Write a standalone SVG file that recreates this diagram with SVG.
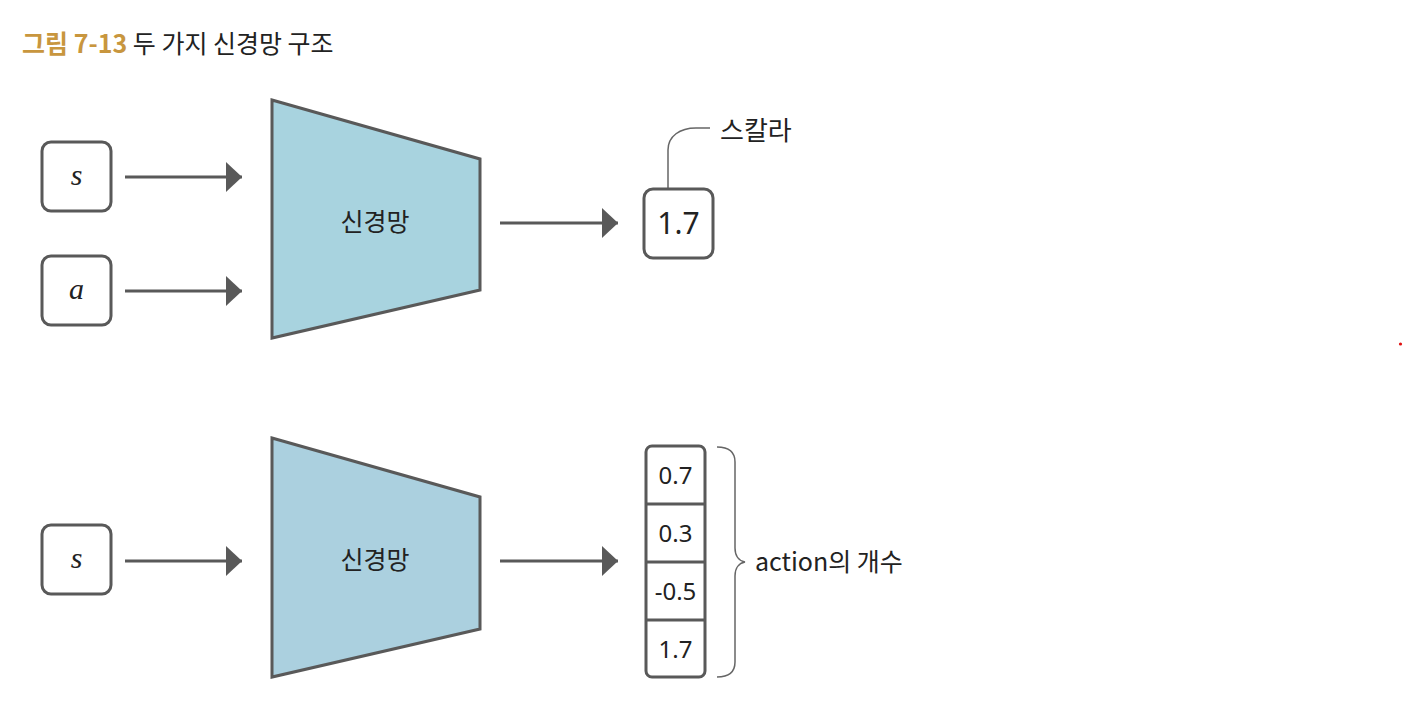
<svg xmlns="http://www.w3.org/2000/svg" width="1404" height="723" viewBox="0 0 1404 723">
<defs>
<style>
.box{fill:#fff;stroke:#595959;stroke-width:3}
.net{stroke:#595959;stroke-width:3}
.conn{stroke:#595959;stroke-width:3;fill:none}
.thin{stroke:#666;stroke-width:1.5;fill:none}
.math{font-family:"Liberation Serif","DejaVu Serif",serif;font-style:italic;font-size:30px;fill:#222;text-anchor:middle}
.ko{font-family:"Noto Sans CJK KR","Noto Sans",sans-serif;font-size:25px;fill:#222}
.num{font-family:"Noto Sans","Liberation Sans",sans-serif;font-size:24px;fill:#222;text-anchor:middle}
</style>
<marker id="arr" markerWidth="16" markerHeight="30" refX="16" refY="15" orient="auto" markerUnits="userSpaceOnUse">
<path d="M0,0 L16,15 L0,30 Z" fill="#595959"/>
</marker>
</defs>
<rect width="1404" height="723" fill="#fff"/>
<g id="title">
<text x="22" y="53" font-family="'Noto Sans CJK KR','Liberation Sans',sans-serif" font-size="25"><tspan font-weight="bold" fill="#c8963e">그림 7-13</tspan><tspan fill="#222"> 두 가지 신경망 구조</tspan></text>
</g>
<g id="connectors">
<line class="conn" x1="125" y1="177" x2="242" y2="177" marker-end="url(#arr)"/>
<line class="conn" x1="125" y1="291" x2="242" y2="291" marker-end="url(#arr)"/>
<line class="conn" x1="500" y1="223" x2="618" y2="223" marker-end="url(#arr)"/>
<line class="conn" x1="125" y1="561" x2="242" y2="561" marker-end="url(#arr)"/>
<line class="conn" x1="500" y1="561" x2="618" y2="561" marker-end="url(#arr)"/>
<path class="thin" d="M668,188 L668,150 C668,136 680,128 696,128 L710,128"/>
</g>
<g id="s-top">
<rect class="box" x="42" y="142" width="69" height="69" rx="9"/>
<text class="math" x="76.5" y="185">s</text>
</g>
<g id="a-top">
<rect class="box" x="42" y="256" width="69" height="69" rx="9"/>
<text class="math" x="76.5" y="299">a</text>
</g>
<g id="net-top">
<polygon class="net" points="272,100 480,159 480,290 272,338" fill="#a8d3df"/>
<text class="ko" x="375" y="231" text-anchor="middle">신경망</text>
</g>
<g id="scalar">
<rect class="box" x="644" y="189" width="69" height="69" rx="9"/>
<text class="num" x="678.5" y="234" style="font-size:30px">1.7</text>
<text class="ko" x="720" y="140" style="font-size:26px">스칼라</text>
</g>
<g id="s-bottom">
<rect class="box" x="42" y="525" width="69" height="69" rx="9"/>
<text class="math" x="76.5" y="568">s</text>
</g>
<g id="net-bottom">
<polygon class="net" points="272,438 480,497 480,629 272,677" fill="#abd0df"/>
<text class="ko" x="375" y="569" text-anchor="middle">신경망</text>
</g>
<g id="vector">
<rect class="box" x="646" y="446" width="59" height="231" rx="6"/>
<line class="conn" x1="646" y1="504" x2="705" y2="504"/>
<line class="conn" x1="646" y1="562" x2="705" y2="562"/>
<line class="conn" x1="646" y1="620" x2="705" y2="620"/>
<text class="num" x="675.5" y="484">0.7</text>
<text class="num" x="675.5" y="542">0.3</text>
<text class="num" x="675.5" y="600">-0.5</text>
<text class="num" x="675.5" y="658">1.7</text>
</g>
<g id="brace">
<path class="thin" d="M717,447 C728,447 735,451 735,462 L735,548 C735,556 739,561 745,562 C739,563 735,568 735,576 L735,662 C735,673 728,677 717,677"/>
<text class="ko" x="755" y="571">action의 개수</text>
</g>
<circle cx="1400.5" cy="344" r="1.6" fill="#e01010"/>
</svg>
